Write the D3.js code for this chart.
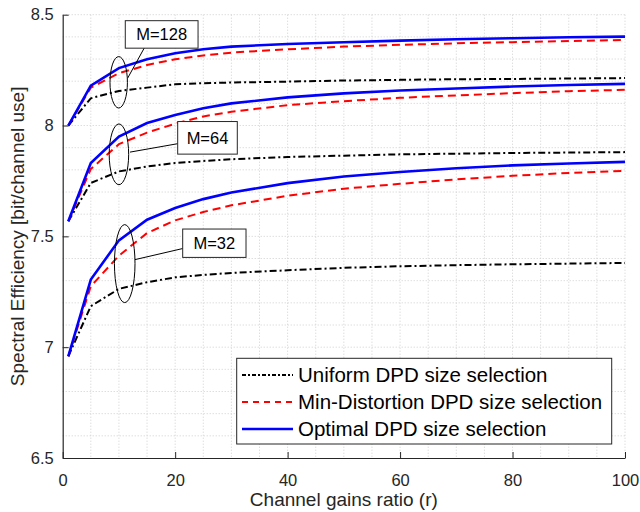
<!DOCTYPE html>
<html><head><meta charset="utf-8">
<script src="https://cdn.jsdelivr.net/npm/d3@7"></script>
<style>body{margin:0;background:#fff}svg{display:block}text{font-family:"Liberation Sans",Arial,Helvetica,sans-serif}</style>
</head><body>
<svg id="c" width="640" height="512"></svg>
<script>
const xVals = [1,5,10,15,20,25,30,40,50,60,70,80,90,100];
const uniform128 = [8.0,8.123,8.156,8.171,8.186,8.191,8.194,8.198,8.203,8.206,8.209,8.210,8.212,8.214];
const minDist128 = [8.0,8.171,8.236,8.273,8.299,8.316,8.329,8.344,8.356,8.364,8.371,8.376,8.381,8.386];
const optimal128 = [8.0,8.180,8.259,8.299,8.326,8.344,8.356,8.368,8.376,8.383,8.389,8.394,8.398,8.401];
const uniform64 = [7.568,7.741,7.793,7.815,7.831,7.840,7.848,7.858,7.864,7.870,7.873,7.876,7.878,7.880];
const minDist64 = [7.568,7.804,7.916,7.968,8.008,8.041,8.062,8.092,8.110,8.125,8.136,8.146,8.155,8.161];
const optimal64 = [7.568,7.831,7.950,8.011,8.048,8.078,8.100,8.127,8.145,8.158,8.167,8.176,8.183,8.188];
const uniform32 = [6.959,7.185,7.263,7.293,7.315,7.326,7.335,7.347,7.358,7.365,7.370,7.374,7.377,7.380];
const minDist32 = [6.959,7.275,7.413,7.515,7.572,7.610,7.640,7.683,7.715,7.737,7.757,7.773,7.786,7.796];
const optimal32 = [6.959,7.305,7.482,7.575,7.628,7.668,7.698,7.740,7.770,7.790,7.807,7.820,7.829,7.836];
const xTicks = [0,20,40,60,80,100];
const yTicks = [6.5,7,7.5,8,8.5];
const yTickLabels = ["6.5","7","7.5","8","8.5"];
const legendLabels = ["Uniform DPD size selection","Min-Distortion DPD size selection","Optimal DPD size selection"];
const mLabels = ["M=128","M=64","M=32"];

const svg = d3.select("#c");
const L=62.7,R=625,T=14.7,B=458;
const x = d3.scaleLinear().domain([0,100]).range([L,R]);
const y = d3.scaleLinear().domain([6.5,8.5]).range([B,T]);

// grid
const g = svg.append("g");
g.selectAll("line.vx").data(d3.range(5,101,5)).enter().append("line")
 .attr("x1",d=>x(d)).attr("x2",d=>x(d)).attr("y1",T).attr("y2",B)
 .attr("stroke","#cfcfcf").attr("stroke-width",1).attr("stroke-dasharray","1,2");
g.selectAll("line.hy").data(d3.range(1,21).map(i=>6.5+i*0.1)).enter().append("line")
 .attr("x1",L).attr("x2",R).attr("y1",d=>y(d)).attr("y2",d=>y(d))
 .attr("stroke","#cfcfcf").attr("stroke-width",1).attr("stroke-dasharray","1,2");

// axes
const ax = svg.append("g").attr("transform",`translate(0,${B})`)
 .call(d3.axisBottom(x).tickValues(xTicks).tickSize(-6).tickPadding(16).tickSizeOuter(0));
const ay = svg.append("g").attr("transform",`translate(${L},0)`)
 .call(d3.axisLeft(y).tickValues(yTicks).tickFormat((d,i)=>yTickLabels[i]).tickSize(-6).tickPadding(9).tickSizeOuter(0));
[ax,ay].forEach(a=>{
  a.select(".domain").attr("stroke","#262626").attr("stroke-width",1.2);
  a.selectAll(".tick line").attr("stroke","#262626");
  a.selectAll("text").attr("font-size",16.5).attr("fill","#262626").attr("font-family","Liberation Sans, Arial, sans-serif");
});

svg.append("text").attr("x",(L+R)/2).attr("y",506).attr("text-anchor","middle")
 .attr("font-size",19).attr("fill","#262626").text("Channel gains ratio (r)");
svg.append("text").attr("transform",`translate(24,${(T+B)/2}) rotate(-90)`).attr("text-anchor","middle")
 .attr("font-size",19).attr("fill","#262626").text("Spectral Efficiency [bit/channel use]");

// series
const styles = [
 {color:"#000",w:2,dash:"7,3,2,3"},
 {color:"#ff0000",w:2,dash:"8,5"},
 {color:"#0000ff",w:2.6,dash:null}
];
const groups = [[uniform128,minDist128,optimal128],[uniform64,minDist64,optimal64],[uniform32,minDist32,optimal32]];
const line = d3.line().x((d,i)=>x(xVals[i])).y(d=>y(d));
groups.forEach(grp=>grp.forEach((s,k)=>{
  const p = svg.append("path").datum(s).attr("d",line).attr("fill","none")
   .attr("stroke",styles[k].color).attr("stroke-width",styles[k].w);
  if(styles[k].dash) p.attr("stroke-dasharray",styles[k].dash);
}));

// annotations (data coordinates): ellipse [cx,cy,rx,ry], leader line, label box [x0,x1,yTop,yBottom]
const ann = [
 {e:[9.96,8.195,1.55,0.116], ln:[[11.56,8.214],[14.64,8.356]], box:[11.13,24.07,8.473,8.349]},
 {e:[10.0,7.870,1.73,0.137], ln:[[11.97,7.880],[20.45,7.918]], box:[20.45,31.05,8.018,7.871]},
 {e:[11.03,7.377,1.83,0.176], ln:[[12.86,7.395],[21.34,7.445]], box:[21.34,32.60,7.533,7.405]}
];
ann.forEach((a,i)=>{
  svg.append("ellipse").attr("cx",x(a.e[0])).attr("cy",y(a.e[1]))
   .attr("rx",x(a.e[2])-x(0)).attr("ry",y(0)-y(a.e[3]))
   .attr("fill","none").attr("stroke","#000").attr("stroke-width",1);
  svg.append("line").attr("x1",x(a.ln[0][0])).attr("y1",y(a.ln[0][1])).attr("x2",x(a.ln[1][0])).attr("y2",y(a.ln[1][1]))
   .attr("stroke","#000").attr("stroke-width",1);
  const bx=x(a.box[0]), bw=x(a.box[1])-bx, by=y(a.box[2]), bh=y(a.box[3])-by;
  svg.append("rect").attr("x",bx).attr("y",by).attr("width",bw).attr("height",bh)
   .attr("fill","#fff").attr("stroke","#262626").attr("stroke-width",1);
  svg.append("text").attr("x",bx+bw/2).attr("y",by+bh/2).attr("dy","0.36em").attr("text-anchor","middle")
   .attr("font-size",16.5).attr("fill","#000").text(mLabels[i]);
});

// legend
const lg = svg.append("g");
lg.append("rect").attr("x",236.7).attr("y",358.3).attr("width",375).attr("height",85.7)
 .attr("fill","#fff").attr("stroke","#262626").attr("stroke-width",1);
legendLabels.forEach((t,k)=>{
  const yy = 375+k*27;
  const l = lg.append("line").attr("x1",242).attr("x2",293).attr("y1",yy).attr("y2",yy)
   .attr("stroke",styles[k].color).attr("stroke-width",styles[k].w);
  if(styles[k].dash) l.attr("stroke-dasharray",k===0?"4,2,2,2":"6,5");
  lg.append("text").attr("x",298).attr("y",yy).attr("dy","0.36em").attr("font-size",20.5).attr("fill","#000").text(t);
});
</script>
</body></html>
